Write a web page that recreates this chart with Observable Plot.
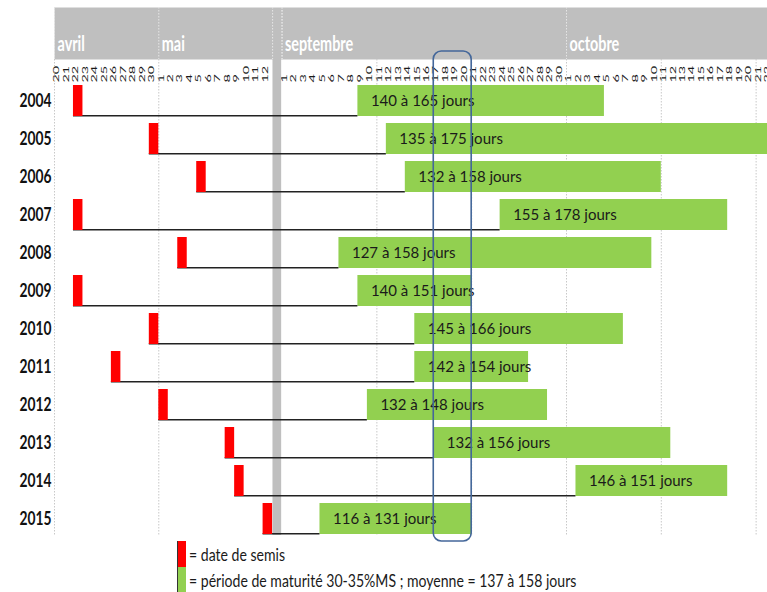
<!DOCTYPE html>
<html>
<head>
<meta charset="utf-8">
<script src="https://cdn.jsdelivr.net/npm/d3@7"></script>
<script src="https://cdn.jsdelivr.net/npm/@observablehq/plot@0.6"></script>
<style>
  body { margin: 0; background: #fff; overflow: hidden; }
  #wrap { position: relative; width: 767px; height: 592px; overflow: hidden; }
  #wrap svg { position: absolute; left: 0; top: 0; overflow: hidden; }
  .legend { position: absolute; left: 177px; height: 26px; display: flex; align-items: center;
            font-family: Lato, "Noto Sans", sans-serif; font-size: 14.5px; color: #1a1a1a; }
  .legend .sw { width: 9px; height: 100%; box-sizing: border-box; border-left: 1.5px solid #333; margin-right: 3px; }
  .legend .tx { display: inline-block; transform: scale(0.97, 1.18); transform-origin: left center; }
</style>
</head>
<body>
<div id="wrap"></div>
<script>
// ---- data ----
const years = [2004, 2005, 2006, 2007, 2008, 2009, 2010, 2011, 2012, 2013, 2014, 2015];
const sowing = ["04-22", "04-30", "05-05", "04-22", "05-03", "04-22", "04-30", "04-26", "05-01", "05-08", "05-09", "05-12"];
const maturityStart = ["09-09", "09-12", "09-14", "09-24", "09-07", "09-09", "09-15", "09-15", "09-10", "09-17", "10-02", "09-05"];
const maturityEnd = ["10-04", "10-22", "10-10", "10-17", "10-09", "09-20", "10-06", "09-26", "09-28", "10-11", "10-17", "09-20"];
const daysMin = [140, 135, 132, 155, 127, 140, 145, 142, 132, 132, 146, 116];
const daysMax = [165, 175, 158, 178, 158, 151, 166, 154, 148, 156, 151, 131];
const highlight = ["09-17", "09-20"];

const monthNames = ["avril", "mai", "septembre", "octobre"];
const monthNumbers = [4, 5, 9, 10];
const dayTicksApril = [20, 21, 22, 23, 24, 25, 26, 27, 28, 29, 30];
const dayTicksMay = [1, 2, 3, 4, 5, 6, 7, 8, 9, 10, 11, 12];
const dayTicksSeptember = [1, 2, 3, 4, 5, 6, 7, 8, 9, 10, 11, 12, 13, 14, 15, 16, 17, 18, 19, 20, 21, 22, 23, 24, 25, 26, 27, 28, 29, 30];
const dayTicksOctober = [1, 2, 3, 4, 5, 6, 7, 8, 9, 10, 11, 12, 13, 14, 15, 16, 17, 18, 19, 20, 21, 22];
const breakAfterMonth = 5;
const gridDates = ["04-20", "05-01", "09-11", "09-21", "10-01", "10-11", "10-21"];
const legendLabels = ["= date de semis", "= période de maturité 30-35%MS ; moyenne = 137 à 158 jours"];

// ---- broken day axis: one column per day ----
const tickLists = [dayTicksApril, dayTicksMay, dayTicksSeptember, dayTicksOctober];
const segStart = {}, firstTick = {}, monthStarts = [], breakCols = [], dayTicks = [];
let c = 0;
monthNumbers.forEach((m, i) => {
  segStart[m] = c; firstTick[m] = tickLists[i][0];
  monthStarts.push({name: monthNames[i], col: c});
  tickLists[i].forEach(d => dayTicks.push({col: c + d - tickLists[i][0], day: d}));
  c += tickLists[i].length;
  if (m === breakAfterMonth) { breakCols.push(c); c += 1; }
});
const col = s => { const [m, d] = s.split("-").map(Number); return segStart[m] + d - firstTick[m]; };

const rows = years.map((y, i) => ({
  year: String(y),
  sow: col(sowing[i]),
  start: col(maturityStart[i]),
  end: col(maturityEnd[i]) + 1,
  label: `${daysMin[i]} à ${daysMax[i]} jours`
}));
const hl = [{x1: col(highlight[0]), x2: col(highlight[1]) + 1}];
const grid = gridDates.map(col);
const xDomain = [0, 75.2];
const FONT = "Lato, 'Noto Sans', sans-serif";

// ---- header (month band + day ticks) ----
const header = Plot.plot({
  width: 767, height: 86, marginTop: 7, marginBottom: 27, marginLeft: 54, marginRight: 0,
  style: {fontFamily: FONT, background: "white"},
  x: {domain: xDomain, axis: null},
  marks: [
    Plot.frame({fill: "#bfbfbf", stroke: null}),
    Plot.ruleX(monthStarts.map(d => d.col).concat(breakCols, breakCols.map(b => b + 1)), {stroke: "#e6e6e6", strokeDasharray: "1.5,1.5"}),
    Plot.text(monthStarts, {x: "col", text: "name", frameAnchor: "bottom", textAnchor: "start", dx: 3, dy: -9,
      fill: "white", fontWeight: "bold", fontSize: 16}),
    Plot.text(dayTicks, {x: d => d.col + 0.5, text: "day", frameAnchor: "bottom", rotate: -90, textAnchor: "start",
      dy: 23, fontSize: 8.5, fill: "#1a1a1a"})
  ]
});
d3.select(header).selectAll("text").each(function () {
  const t = d3.select(this), tr = t.attr("transform") || "";
  if (tr.includes("rotate")) t.attr("transform", tr + " scale(1.7,1)");
  else if (t.attr("fill") === "white" || this.parentNode.getAttribute("fill") === "white") t.attr("transform", tr + " scale(0.9,1.25)");
});

// ---- body ----
const body = Plot.plot({
  width: 767, height: 545, marginTop: 59, marginBottom: 7, marginLeft: 54, marginRight: 0,
  style: {fontFamily: FONT, background: "transparent"},
  x: {domain: xDomain, axis: null},
  y: {domain: rows.map(d => d.year), range: [80.4, 537.9], paddingInner: 0.19, paddingOuter: 0.095, axis: null},
  marks: [
    Plot.ruleX(grid, {stroke: "#c8c8c8", strokeDasharray: "1.5,1.5", insetBottom: 3}),
    Plot.rect(breakCols, {x1: d => d, x2: d => d + 1, fill: "#bfbfbf", insetBottom: 3, insetLeft: 0.4, insetRight: 0.4}),
    Plot.barX(rows, {x1: "start", x2: "end", y: "year", fill: "#92d050"}),
    Plot.ruleY(rows, {x1: "sow", x2: "start", y: "year", dy: 14.8, stroke: "#222", strokeWidth: 1.5}),
    Plot.ruleX(rows, {x: "start", y: "year", stroke: "#333", strokeWidth: 1.5}),
    Plot.barX(rows, {x1: "sow", x2: d => d.sow + 1, y: "year", fill: "#ff0000"}),
    Plot.ruleX(rows, {x: "sow", y: "year", stroke: "#5a0000", strokeWidth: 1.2}),
    Plot.text(rows, {x: "start", y: "year", text: "label", textAnchor: "start", dx: 13, fontSize: 15, fill: "#1a1a1a",
      ariaLabel: "bar-label"}),
    Plot.rect(hl, {x1: "x1", x2: "x2", insetTop: -8, insetBottom: -3, rx: 8, fill: "none", stroke: "#44679a", strokeWidth: 1.6}),
    Plot.axisY({tickSize: 0, tickPadding: 3, fontSize: 15, fontWeight: "bold", fill: "#111", label: null})
  ]
});
d3.select(body).selectAll('g[aria-label="y-axis tick label"] text').each(function () {
  const t = d3.select(this); t.attr("transform", (t.attr("transform") || "") + " scale(0.92,1.2)");
});
d3.select(body).selectAll('g[aria-label="bar-label"] text').each(function () {
  const t = d3.select(this); t.attr("transform", (t.attr("transform") || "") + " scale(0.98,1.15)");
});

const wrap = document.getElementById("wrap");
wrap.appendChild(header);
wrap.appendChild(body);

// ---- legend ----
const legendColors = ["#ff0000", "#92d050"];
legendLabels.forEach((txt, i) => {
  const div = document.createElement("div");
  div.className = "legend";
  div.style.top = (541 + i * 26) + "px";
  const sw = document.createElement("span");
  sw.className = "sw";
  sw.style.background = legendColors[i];
  const t = document.createElement("span");
  t.className = "tx";
  t.textContent = txt;
  div.appendChild(sw); div.appendChild(t);
  wrap.appendChild(div);
});
</script>
</body>
</html>
